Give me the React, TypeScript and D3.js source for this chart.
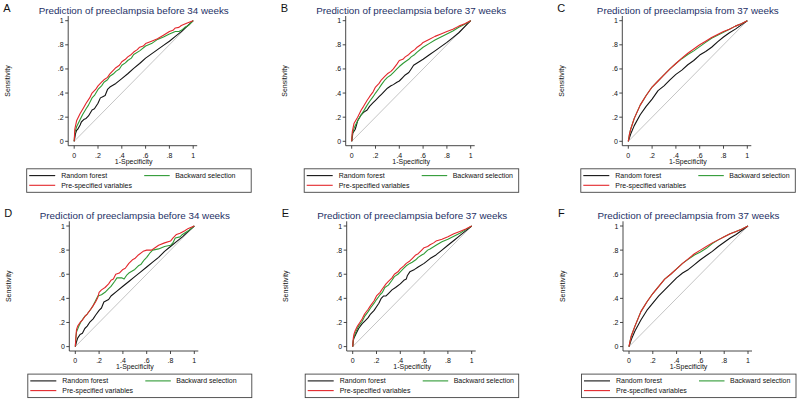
import React from "react";
import * as d3 from "d3";

type Pt = [number, number];

const tickValues = [0, 0.2, 0.4, 0.6, 0.8, 1];
const tickLabels = ["0", ".2", ".4", ".6", ".8", "1"];
const seriesNames = ["Random forest", "Backward selection", "Pre-specified variables"];
const panelLetters = ["A", "B", "C", "D", "E", "F"];
const panelTitles = [
  "Prediction of preeclampsia before 34 weeks",
  "Prediction of preeclampsia before 37 weeks",
  "Prediction of preeclampsia from 37 weeks",
  "Prediction of preeclampsia before 34 weeks",
  "Prediction of preeclampsia before 37 weeks",
  "Prediction of preeclampsia from 37 weeks",
];

// Panel A
const aRandom: Pt[] = [[0,0],[0.01,0.06],[0.02,0.09],[0.03,0.1],[0.05,0.135],[0.06,0.16],[0.08,0.18],[0.1,0.19],[0.12,0.21],[0.15,0.26],[0.17,0.27],[0.2,0.315],[0.22,0.36],[0.24,0.37],[0.26,0.38],[0.28,0.43],[0.3,0.45],[0.35,0.48],[0.4,0.52],[0.45,0.56],[0.5,0.605],[0.55,0.645],[0.6,0.69],[0.65,0.725],[0.7,0.76],[0.75,0.795],[0.8,0.83],[0.85,0.87],[0.9,0.91],[0.95,0.955],[1,1]];
const aBackward: Pt[] = [[0,0],[0.005,0.07],[0.02,0.12],[0.05,0.18],[0.07,0.22],[0.1,0.27],[0.12,0.3],[0.15,0.36],[0.17,0.38],[0.2,0.43],[0.23,0.46],[0.25,0.49],[0.28,0.51],[0.3,0.54],[0.33,0.56],[0.35,0.58],[0.38,0.6],[0.4,0.63],[0.43,0.65],[0.45,0.67],[0.48,0.69],[0.5,0.72],[0.55,0.75],[0.6,0.79],[0.65,0.81],[0.7,0.845],[0.75,0.865],[0.8,0.89],[0.85,0.91],[0.88,0.91],[0.9,0.92],[0.93,0.945],[0.96,0.96],[1,1]];
const aPrespec: Pt[] = [[0,0],[0.005,0.1],[0.02,0.17],[0.05,0.23],[0.08,0.28],[0.1,0.315],[0.13,0.36],[0.15,0.4],[0.18,0.43],[0.2,0.46],[0.23,0.49],[0.25,0.51],[0.28,0.53],[0.3,0.56],[0.33,0.59],[0.35,0.61],[0.38,0.63],[0.4,0.66],[0.43,0.68],[0.45,0.7],[0.48,0.72],[0.5,0.74],[0.53,0.76],[0.55,0.78],[0.58,0.79],[0.6,0.81],[0.65,0.83],[0.7,0.85],[0.75,0.88],[0.8,0.91],[0.83,0.92],[0.85,0.94],[0.88,0.945],[0.9,0.96],[0.95,0.98],[1,1]];

// Panel B
const bRandom: Pt[] = [[0,0],[0.01,0.07],[0.03,0.1],[0.05,0.17],[0.08,0.22],[0.1,0.24],[0.13,0.26],[0.15,0.29],[0.18,0.32],[0.2,0.34],[0.23,0.37],[0.25,0.39],[0.28,0.42],[0.3,0.44],[0.33,0.46],[0.35,0.47],[0.38,0.49],[0.4,0.5],[0.43,0.53],[0.45,0.55],[0.48,0.57],[0.5,0.6],[0.52,0.63],[0.56,0.655],[0.6,0.68],[0.65,0.715],[0.7,0.75],[0.75,0.785],[0.8,0.82],[0.85,0.86],[0.9,0.9],[0.95,0.95],[1,1]];
const bBackward: Pt[] = [[0,0],[0.005,0.06],[0.02,0.11],[0.05,0.17],[0.08,0.22],[0.1,0.25],[0.13,0.3],[0.15,0.33],[0.18,0.37],[0.2,0.4],[0.23,0.44],[0.25,0.47],[0.28,0.51],[0.3,0.53],[0.33,0.55],[0.35,0.57],[0.38,0.6],[0.4,0.62],[0.43,0.645],[0.45,0.66],[0.48,0.68],[0.5,0.7],[0.53,0.72],[0.55,0.74],[0.6,0.78],[0.65,0.81],[0.7,0.84],[0.75,0.865],[0.8,0.89],[0.85,0.915],[0.9,0.945],[0.95,0.97],[1,1]];
const bPrespec: Pt[] = [[0,0],[0.005,0.08],[0.02,0.15],[0.05,0.2],[0.08,0.26],[0.1,0.29],[0.13,0.34],[0.15,0.37],[0.18,0.41],[0.2,0.45],[0.23,0.48],[0.25,0.51],[0.28,0.54],[0.3,0.56],[0.33,0.58],[0.35,0.6],[0.38,0.64],[0.4,0.67],[0.43,0.68],[0.45,0.7],[0.48,0.72],[0.5,0.74],[0.53,0.76],[0.55,0.78],[0.58,0.8],[0.6,0.82],[0.65,0.845],[0.7,0.87],[0.75,0.89],[0.8,0.91],[0.85,0.93],[0.9,0.955],[0.95,0.975],[1,1]];

// Panel C
const cRandom: Pt[] = [[0,0],[0.02,0.06],[0.05,0.13],[0.1,0.22],[0.15,0.29],[0.2,0.35],[0.25,0.42],[0.3,0.46],[0.35,0.51],[0.4,0.555],[0.45,0.59],[0.5,0.635],[0.55,0.67],[0.6,0.715],[0.65,0.745],[0.7,0.78],[0.75,0.825],[0.8,0.865],[0.85,0.9],[0.9,0.93],[0.95,0.965],[1,1]];
const cBackward: Pt[] = [[0,0],[0.01,0.06],[0.02,0.1],[0.05,0.19],[0.1,0.3],[0.15,0.38],[0.2,0.45],[0.25,0.5],[0.3,0.55],[0.35,0.6],[0.4,0.645],[0.45,0.685],[0.5,0.72],[0.55,0.75],[0.6,0.785],[0.65,0.82],[0.7,0.855],[0.75,0.88],[0.8,0.905],[0.85,0.93],[0.9,0.955],[0.95,0.975],[1,1]];
const cPrespec: Pt[] = [[0,0],[0.01,0.06],[0.02,0.1],[0.05,0.19],[0.1,0.3],[0.15,0.38],[0.2,0.45],[0.25,0.5],[0.3,0.55],[0.35,0.6],[0.4,0.645],[0.45,0.69],[0.5,0.73],[0.55,0.765],[0.6,0.8],[0.65,0.83],[0.7,0.86],[0.75,0.885],[0.8,0.91],[0.85,0.93],[0.9,0.955],[0.95,0.975],[1,1]];

// Panel D
const dRandom: Pt[] = [[0,0],[0.01,0.04],[0.02,0.07],[0.04,0.1],[0.06,0.11],[0.08,0.15],[0.1,0.17],[0.12,0.2],[0.15,0.23],[0.17,0.26],[0.2,0.3],[0.22,0.32],[0.24,0.37],[0.26,0.38],[0.28,0.39],[0.3,0.42],[0.35,0.46],[0.4,0.5],[0.45,0.54],[0.5,0.58],[0.55,0.62],[0.6,0.66],[0.65,0.7],[0.7,0.74],[0.75,0.79],[0.8,0.83],[0.85,0.87],[0.9,0.91],[0.95,0.955],[1,1]];
const dBackward: Pt[] = [[0,0],[0.005,0.07],[0.01,0.12],[0.03,0.17],[0.05,0.21],[0.08,0.25],[0.1,0.27],[0.13,0.31],[0.15,0.34],[0.17,0.38],[0.19,0.42],[0.22,0.43],[0.25,0.45],[0.28,0.48],[0.3,0.5],[0.33,0.54],[0.35,0.57],[0.39,0.57],[0.41,0.56],[0.43,0.59],[0.45,0.61],[0.5,0.64],[0.53,0.67],[0.55,0.68],[0.58,0.72],[0.6,0.74],[0.63,0.78],[0.65,0.8],[0.7,0.81],[0.75,0.83],[0.8,0.84],[0.82,0.86],[0.84,0.9],[0.88,0.91],[0.9,0.93],[0.95,0.96],[1,1]];
const dPrespec: Pt[] = [[0,0],[0.005,0.08],[0.01,0.14],[0.02,0.17],[0.04,0.2],[0.06,0.22],[0.08,0.25],[0.1,0.27],[0.13,0.31],[0.15,0.34],[0.17,0.37],[0.19,0.41],[0.2,0.45],[0.22,0.47],[0.25,0.49],[0.28,0.52],[0.3,0.55],[0.32,0.56],[0.34,0.6],[0.37,0.61],[0.4,0.64],[0.42,0.65],[0.45,0.69],[0.48,0.72],[0.5,0.73],[0.53,0.76],[0.57,0.79],[0.6,0.8],[0.64,0.8],[0.67,0.82],[0.7,0.84],[0.75,0.86],[0.8,0.875],[0.82,0.9],[0.85,0.93],[0.88,0.94],[0.92,0.96],[0.95,0.98],[1,1]];

// Panel E
const eRandom: Pt[] = [[0,0],[0.005,0.05],[0.01,0.07],[0.03,0.11],[0.05,0.15],[0.08,0.19],[0.1,0.21],[0.13,0.24],[0.15,0.27],[0.18,0.3],[0.2,0.33],[0.22,0.36],[0.24,0.4],[0.26,0.42],[0.28,0.42],[0.3,0.44],[0.33,0.47],[0.36,0.49],[0.4,0.52],[0.43,0.55],[0.45,0.56],[0.46,0.59],[0.48,0.62],[0.52,0.64],[0.55,0.66],[0.6,0.69],[0.65,0.73],[0.7,0.76],[0.75,0.8],[0.8,0.84],[0.85,0.88],[0.9,0.92],[0.95,0.96],[1,1]];
const eBackward: Pt[] = [[0,0],[0.005,0.05],[0.01,0.08],[0.03,0.13],[0.05,0.17],[0.08,0.21],[0.1,0.25],[0.13,0.29],[0.15,0.32],[0.18,0.36],[0.2,0.39],[0.23,0.43],[0.25,0.45],[0.27,0.49],[0.3,0.51],[0.33,0.55],[0.35,0.58],[0.38,0.6],[0.4,0.62],[0.43,0.65],[0.45,0.67],[0.48,0.69],[0.5,0.7],[0.53,0.72],[0.55,0.74],[0.58,0.76],[0.6,0.77],[0.63,0.8],[0.65,0.81],[0.7,0.84],[0.75,0.87],[0.8,0.89],[0.85,0.915],[0.9,0.94],[0.95,0.97],[1,1]];
const ePrespec: Pt[] = [[0,0],[0.005,0.07],[0.01,0.1],[0.02,0.13],[0.04,0.17],[0.06,0.2],[0.08,0.23],[0.1,0.27],[0.13,0.31],[0.15,0.34],[0.18,0.38],[0.2,0.42],[0.23,0.45],[0.25,0.48],[0.28,0.52],[0.3,0.54],[0.33,0.57],[0.35,0.6],[0.38,0.62],[0.4,0.645],[0.43,0.67],[0.45,0.69],[0.48,0.71],[0.5,0.73],[0.53,0.76],[0.55,0.77],[0.58,0.8],[0.6,0.82],[0.63,0.83],[0.65,0.845],[0.68,0.86],[0.7,0.875],[0.75,0.89],[0.8,0.91],[0.85,0.935],[0.9,0.955],[0.95,0.975],[1,1]];

// Panel F
const fRandom: Pt[] = [[0,0],[0.02,0.06],[0.05,0.13],[0.1,0.22],[0.15,0.3],[0.2,0.36],[0.25,0.42],[0.3,0.47],[0.35,0.52],[0.4,0.57],[0.45,0.61],[0.5,0.64],[0.55,0.68],[0.6,0.72],[0.65,0.755],[0.7,0.79],[0.75,0.83],[0.8,0.865],[0.85,0.9],[0.9,0.93],[0.95,0.965],[1,1]];
const fBackward: Pt[] = [[0,0],[0.01,0.05],[0.02,0.09],[0.05,0.17],[0.1,0.29],[0.15,0.37],[0.2,0.44],[0.25,0.5],[0.3,0.56],[0.35,0.6],[0.4,0.645],[0.45,0.69],[0.5,0.725],[0.55,0.76],[0.6,0.785],[0.65,0.815],[0.7,0.855],[0.75,0.885],[0.8,0.91],[0.85,0.935],[0.9,0.955],[0.95,0.975],[1,1]];
const fPrespec: Pt[] = [[0,0],[0.01,0.05],[0.02,0.09],[0.05,0.17],[0.1,0.29],[0.15,0.37],[0.2,0.44],[0.25,0.5],[0.3,0.56],[0.35,0.6],[0.4,0.645],[0.45,0.69],[0.5,0.73],[0.55,0.77],[0.6,0.8],[0.65,0.83],[0.7,0.86],[0.75,0.885],[0.8,0.91],[0.85,0.935],[0.9,0.955],[0.95,0.975],[1,1]];

const panelSeries: Pt[][][] = [
  [aRandom, aBackward, aPrespec],
  [bRandom, bBackward, bPrespec],
  [cRandom, cBackward, cPrespec],
  [dRandom, dBackward, dPrespec],
  [eRandom, eBackward, ePrespec],
  [fRandom, fBackward, fPrespec],
];

const COLORS = ["#141414", "#2f9a35", "#e3262b"];
const FONT = "'Liberation Sans', Arial, Helvetica, sans-serif";

// layout: x position of data 0, y position of data 1, legend right extent
const layout = [
  { x0: 74.2, top: 20.7, legendRight: 177 },
  { x0: 351.7, top: 20.7, legendRight: 167 },
  { x0: 628.3, top: 20.7, legendRight: 167 },
  { x0: 75.3, top: 226, legendRight: 176.5 },
  { x0: 352.7, top: 226, legendRight: 166 },
  { x0: 629, top: 226, legendRight: 167 },
];

const PW = 119;
const PH = 120.6;

function Panel({ idx }: { idx: number }) {
  const { x0, top, legendRight } = layout[idx];
  const x = d3.scaleLinear().domain([0, 1]).range([x0, x0 + PW]);
  const y = d3.scaleLinear().domain([0, 1]).range([top + PH, top]);
  const yb = y(0);
  const axisX = x0 - 6;
  const axisY = yb + 4.4;
  const line = d3
    .line<Pt>()
    .x((d) => x(d[0]))
    .y((d) => y(d[1]));
  const series = panelSeries[idx];
  const textFill = "#111";
  const axisCol = "#333";
  return (
    <g>
      <text x={x0 - 71} y={top - 8.8} fontSize={11} fontFamily={FONT} fill="#111">
        {panelLetters[idx]}
      </text>
      <text
        x={x0 + 59.5}
        y={top - 7}
        fontSize={9.8}
        fontFamily={FONT}
        fill="#1e3166"
        textAnchor="middle"
      >
        {panelTitles[idx]}
      </text>
      <line x1={x(0)} y1={y(0)} x2={x(1)} y2={y(1)} stroke="#bdbdbd" strokeWidth={0.9} />
      {series.map((s, i) => (
        <path key={i} d={line(s) || ""} fill="none" stroke={COLORS[i]} strokeWidth={1.1} strokeLinejoin="round" />
      ))}
      <line x1={axisX} y1={top - 4.7} x2={axisX} y2={axisY} stroke={axisCol} strokeWidth={0.9} />
      {tickValues.map((t, i) => (
        <g key={"y" + i}>
          <line x1={axisX - 3} x2={axisX} y1={y(t)} y2={y(t)} stroke={axisCol} strokeWidth={0.9} />
          <text
            x={axisX - 4.5}
            y={y(t) + 2.5}
            fontSize={7}
            fontFamily={FONT}
            fill={textFill}
            textAnchor="end"
          >
            {tickLabels[i]}
          </text>
        </g>
      ))}
      <line x1={axisX} y1={axisY} x2={x0 + PW + 4} y2={axisY} stroke={axisCol} strokeWidth={0.9} />
      {tickValues.map((t, i) => (
        <g key={"x" + i}>
          <line x1={x(t)} x2={x(t)} y1={axisY} y2={axisY + 3} stroke={axisCol} strokeWidth={0.9} />
          <text x={x(t)} y={axisY + 11.8} fontSize={7} fontFamily={FONT} fill={textFill} textAnchor="middle">
            {tickLabels[i]}
          </text>
        </g>
      ))}
      <text x={x(0.5)} y={axisY + 17.8} fontSize={7} fontFamily={FONT} fill={textFill} textAnchor="middle">
        1-Specificity
      </text>
      <text
        transform={`translate(${x0 - 64.5},${(top + yb) / 2}) rotate(-90)`}
        fontSize={7}
        fontFamily={FONT}
        fill={textFill}
        textAnchor="middle"
      >
        Sensitivity
      </text>
      <rect
        x={x0 - 47.5}
        y={yb + 27.5}
        width={legendRight + 47.5}
        height={23.5}
        fill="#fff"
        stroke="#444"
        strokeWidth={0.9}
      />
      <line x1={x0 - 45} x2={x0 - 19} y1={yb + 34.3} y2={yb + 34.3} stroke={COLORS[0]} strokeWidth={1.1} />
      <text x={x0 - 13} y={yb + 36.8} fontSize={7} fontFamily={FONT} fill={textFill}>
        {seriesNames[0]}
      </text>
      <line x1={x0 + 70} x2={x0 + 95.5} y1={yb + 34.3} y2={yb + 34.3} stroke={COLORS[1]} strokeWidth={1.1} />
      <text x={x0 + 101} y={yb + 36.8} fontSize={7} fontFamily={FONT} fill={textFill}>
        {seriesNames[1]}
      </text>
      <line x1={x0 - 45} x2={x0 - 19} y1={yb + 44} y2={yb + 44} stroke={COLORS[2]} strokeWidth={1.1} />
      <text x={x0 - 13} y={yb + 46.5} fontSize={7} fontFamily={FONT} fill={textFill}>
        {seriesNames[2]}
      </text>
    </g>
  );
}

export default function App() {
  return (
    <svg
      width={800}
      height={403}
      style={{ position: "absolute", left: 0, top: 0, background: "#fff" }}
    >
      <rect x={0} y={0} width={800} height={403} fill="#fff" />
      {layout.map((_, i) => (
        <Panel key={i} idx={i} />
      ))}
    </svg>
  );
}
